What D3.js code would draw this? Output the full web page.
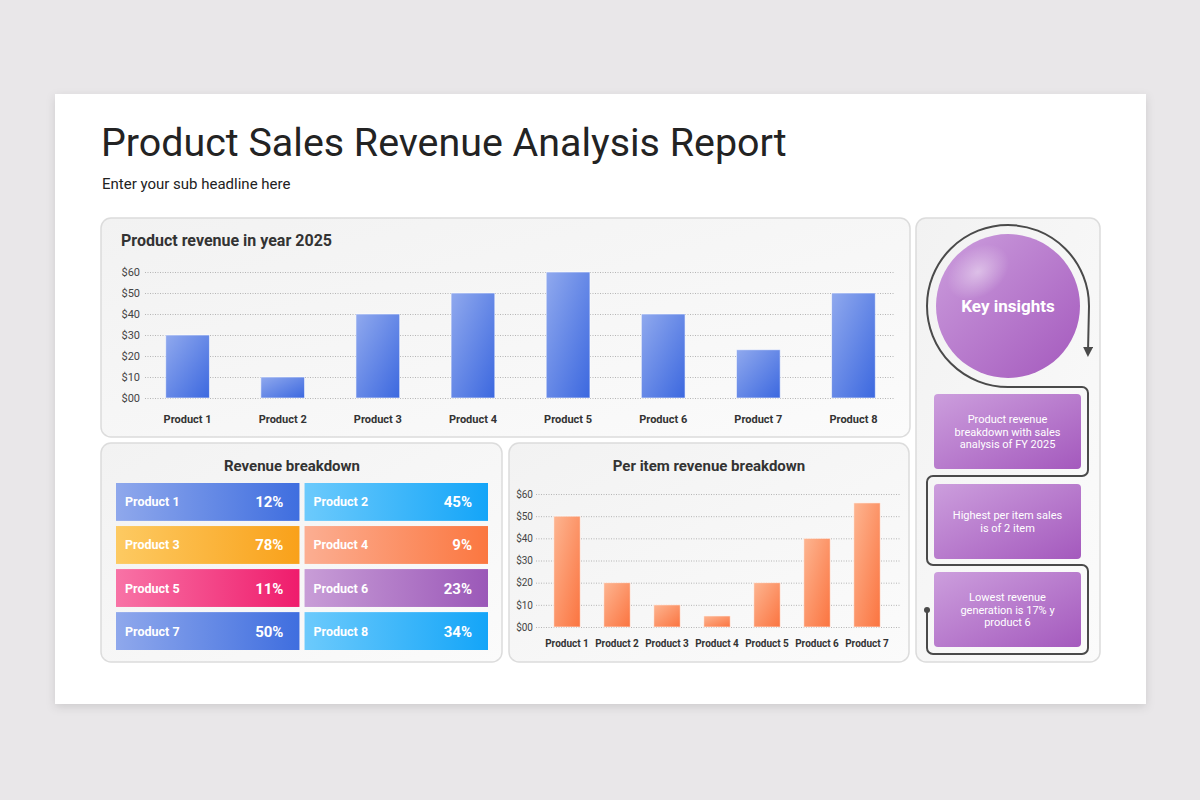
<!DOCTYPE html>
<html>
<head>
<meta charset="utf-8">
<script src="https://cdn.jsdelivr.net/npm/d3@7"></script>
<style>
  body { margin: 0; background: #e9e7e9; font-family: Roboto, "Noto Sans", sans-serif; }
  svg text { font-family: Roboto, "Noto Sans", sans-serif; }
</style>
</head>
<body>
<svg id="board" width="1200" height="800"></svg>
<script>
// ---- data ----
var revenueProducts = ["Product 1", "Product 2", "Product 3", "Product 4", "Product 5", "Product 6", "Product 7", "Product 8"];
var revenueValues = [30, 10, 40, 50, 60, 40, 23, 50];

var perItemProducts = ["Product 1", "Product 2", "Product 3", "Product 4", "Product 5", "Product 6", "Product 7"];
var perItemValues = [50, 20, 10, 5, 20, 40, 56];

var dollarTicks = [0, 10, 20, 30, 40, 50, 60];
var dollarLabels = ["$00", "$10", "$20", "$30", "$40", "$50", "$60"];

var breakdownProducts = ["Product 1", "Product 2", "Product 3", "Product 4", "Product 5", "Product 6", "Product 7", "Product 8"];
var breakdownShares = ["12%", "45%", "78%", "9%", "11%", "23%", "50%", "34%"];

var insightTexts = [
  ["Product revenue", "breakdown with sales", "analysis of FY 2025"],
  ["Highest per item sales", "is of 2 item"],
  ["Lowest revenue", "generation is 17% y", "product 6"]
];

// tile gradient pairs, one per product tile
var tileColors = [
  ["#8fa8ec", "#3f6edf"], ["#6ccafc", "#14a5f8"],
  ["#fdca62", "#f9a11a"], ["#fcae92", "#fb7740"],
  ["#f873a6", "#ef1c6c"], ["#c89dd7", "#9b58b8"],
  ["#8fa8ec", "#3f6edf"], ["#6ccafc", "#14a5f8"]
];

var svg = d3.select("#board");
var defs = svg.append("defs");

function diagGradient(id, c0, c1) {
  var g = defs.append("linearGradient").attr("id", id)
    .attr("x1", "0%").attr("y1", "0%").attr("x2", "100%").attr("y2", "100%");
  g.append("stop").attr("offset", "0%").attr("stop-color", c0);
  g.append("stop").attr("offset", "100%").attr("stop-color", c1);
}
function horizGradient(id, c0, c1) {
  var g = defs.append("linearGradient").attr("id", id)
    .attr("x1", "0%").attr("y1", "0%").attr("x2", "100%").attr("y2", "0%");
  g.append("stop").attr("offset", "0%").attr("stop-color", c0);
  g.append("stop").attr("offset", "100%").attr("stop-color", c1);
}

diagGradient("blueBar", "#90a9ee", "#3c68df");
diagGradient("orangeBar", "#fdb591", "#fb7440");
diagGradient("panelBg", "#f2f2f2", "#fbfbfb");
diagGradient("purple", "#cc9edd", "#a459bd");
tileColors.forEach((c, i) => horizGradient("tile" + i, c[0], c[1]));

var gloss = defs.append("radialGradient").attr("id", "gloss")
  .attr("cx", "50%").attr("cy", "50%").attr("r", "50%");
gloss.append("stop").attr("offset", "0%").attr("stop-color", "#fff").attr("stop-opacity", 0.45);
gloss.append("stop").attr("offset", "100%").attr("stop-color", "#fff").attr("stop-opacity", 0);

var shadow = defs.append("filter").attr("id", "cardShadow")
  .attr("x", "-5%").attr("y", "-5%").attr("width", "110%").attr("height", "115%");
shadow.append("feDropShadow").attr("dx", 0).attr("dy", 3).attr("stdDeviation", 5)
  .attr("flood-color", "#000").attr("flood-opacity", 0.12);

var arrow = defs.append("marker").attr("id", "arrowHead")
  .attr("viewBox", "0 0 10 10").attr("refX", 5).attr("refY", 5)
  .attr("markerWidth", 5).attr("markerHeight", 5).attr("orient", "auto");
arrow.append("path").attr("d", "M0,0 L10,5 L0,10 z").attr("fill", "#4a4a4a");

// ---- card ----
svg.append("rect").attr("x", 55).attr("y", 94).attr("width", 1091).attr("height", 610)
  .attr("fill", "#fff").attr("filter", "url(#cardShadow)");

svg.append("text").attr("x", 101).attr("y", 156)
  .attr("font-size", 39.4).attr("fill", "#232323").text("Product Sales Revenue Analysis Report");
svg.append("text").attr("x", 102).attr("y", 189)
  .attr("font-size", 15).attr("fill", "#222").text("Enter your sub headline here");

function panel(x, y, w, h) {
  svg.append("rect").attr("x", x).attr("y", y).attr("width", w).attr("height", h)
    .attr("rx", 10).attr("fill", "url(#panelBg)").attr("stroke", "#dcdcdc").attr("stroke-width", 1.5);
}
panel(101, 218, 809, 219);
panel(101, 443, 401, 219);
panel(509, 443, 400, 219);
panel(916, 218, 184, 444);

// ---- bar chart helper ----
function barChart(opt) {
  var g = svg.append("g");
  var x = d3.scaleBand().domain(opt.categories).range(opt.xRange)
    .paddingInner(opt.padding).paddingOuter(opt.padding / 2);
  var y = d3.scaleLinear().domain([0, 60]).range(opt.yRange);

  var yAxis = g.append("g").attr("transform", "translate(" + opt.gridStart + ",0)")
    .call(d3.axisLeft(y).tickValues(dollarTicks)
      .tickFormat((d, i) => dollarLabels[i])
      .tickSize(-(opt.gridEnd - opt.gridStart)).tickPadding(opt.tickPad));
  yAxis.select(".domain").remove();
  yAxis.selectAll(".tick line").attr("stroke", "#b5b5b5").attr("stroke-dasharray", "1,1.5");
  yAxis.selectAll(".tick text").attr("font-size", opt.tickFont).attr("fill", "#444");

  g.selectAll(".bar").data(opt.values).join("rect")
    .attr("x", (d, i) => x(opt.categories[i]))
    .attr("y", d => y(d))
    .attr("width", x.bandwidth())
    .attr("height", d => y(0) - y(d))
    .attr("fill", opt.fill)
    .attr("stroke", "#fff").attr("stroke-opacity", 0.6).attr("stroke-width", 1);

  var xAxis = g.append("g").attr("transform", "translate(0," + y(0) + ")")
    .call(d3.axisBottom(x).tickSize(0).tickPadding(opt.labelPad));
  xAxis.select(".domain").remove();
  xAxis.selectAll(".tick text").attr("font-size", opt.labelFont)
    .attr("font-weight", "bold").attr("fill", "#333");
}

svg.append("text").attr("x", 121).attr("y", 246)
  .attr("font-size", 16).attr("font-weight", "bold").attr("fill", "#333")
  .text("Product revenue in year 2025");

barChart({
  categories: revenueProducts, values: revenueValues,
  xRange: [140, 901], padding: 0.54, yRange: [398, 272],
  gridStart: 145, gridEnd: 895, tickPad: 5, tickFont: 11, labelPad: 17, labelFont: 11,
  fill: "url(#blueBar)"
});

svg.append("text").attr("x", 709).attr("y", 471).attr("text-anchor", "middle")
  .attr("font-size", 15).attr("font-weight", "bold").attr("fill", "#333")
  .text("Per item revenue breakdown");

barChart({
  categories: perItemProducts, values: perItemValues,
  xRange: [542, 892], padding: 0.47, yRange: [627, 494],
  gridStart: 536, gridEnd: 900, tickPad: 3, tickFont: 10, labelPad: 13, labelFont: 10,
  fill: "url(#orangeBar)"
});

// ---- revenue breakdown tiles ----
svg.append("text").attr("x", 292).attr("y", 471).attr("text-anchor", "middle")
  .attr("font-size", 15).attr("font-weight", "bold").attr("fill", "#333")
  .text("Revenue breakdown");

var col = d3.scaleBand().domain([0, 1]).range([116, 488]).paddingInner(0.027);
var row = d3.scaleBand().domain([0, 1, 2, 3]).range([483, 650]).paddingInner(0.12);

var tiles = svg.selectAll(".tile").data(breakdownProducts).join("g")
  .attr("transform", (d, i) => "translate(" + col(i % 2) + "," + row(Math.floor(i / 2)) + ")");
tiles.append("rect").attr("width", col.bandwidth()).attr("height", row.bandwidth())
  .attr("fill", (d, i) => "url(#tile" + i + ")");
tiles.append("text").attr("x", 9).attr("y", row.bandwidth() / 2 + 4.5)
  .attr("font-size", 12.5).attr("font-weight", "bold").attr("fill", "#fff").text(d => d);
tiles.append("text").attr("x", col.bandwidth() - 16).attr("y", row.bandwidth() / 2 + 5.5)
  .attr("text-anchor", "end").attr("font-size", 15).attr("font-weight", "bold").attr("fill", "#fff")
  .text((d, i) => breakdownShares[i]);

// ---- key insights ----
var cx = 1008, cy = 306, ringR = 81;
var lx = 927, rx = 1088;

svg.append("path")
  .attr("d", "M" + cx + "," + (cy + ringR) + " A" + ringR + "," + ringR + " 0 1 1 " + (cx + ringR) + "," + cy + " L" + rx + "," + 352)
  .attr("fill", "none").attr("stroke", "#4a4a4a").attr("stroke-width", 2)
  .attr("marker-end", "url(#arrowHead)");

var rowLines = [387, 476, 565, 654];
var r = 6;
var route = d3.path();
route.moveTo(cx, rowLines[0]);
route.lineTo(rx - r, rowLines[0]);
route.arcTo(rx, rowLines[0], rx, rowLines[0] + r, r);
route.arcTo(rx, rowLines[1], rx - r, rowLines[1], r);
route.arcTo(lx, rowLines[1], lx, rowLines[1] + r, r);
route.arcTo(lx, rowLines[2], lx + r, rowLines[2], r);
route.arcTo(rx, rowLines[2], rx, rowLines[2] + r, r);
route.arcTo(rx, rowLines[3], rx - r, rowLines[3], r);
route.arcTo(lx, rowLines[3], lx, rowLines[3] - r, r);
route.lineTo(lx, 610);
svg.append("path").attr("d", route.toString())
  .attr("fill", "none").attr("stroke", "#4a4a4a").attr("stroke-width", 2);
svg.append("circle").attr("cx", lx).attr("cy", 610).attr("r", 3).attr("fill", "#4a4a4a");

svg.append("circle").attr("cx", cx).attr("cy", cy).attr("r", 72).attr("fill", "url(#purple)");
svg.append("ellipse").attr("cx", 978).attr("cy", 272).attr("rx", 34).attr("ry", 24)
  .attr("transform", "rotate(-35,978,272)").attr("fill", "url(#gloss)");
svg.append("text").attr("x", cx).attr("y", 312).attr("text-anchor", "middle")
  .attr("font-size", 17).attr("font-weight", "bold").attr("fill", "#fff").text("Key insights");

var boxTops = [394, 484, 572];
var boxH = 75;
insightTexts.forEach((lines, i) => {
  var g = svg.append("g").attr("transform", "translate(934," + boxTops[i] + ")");
  g.append("rect").attr("width", 147).attr("height", boxH).attr("rx", 4).attr("fill", "url(#purple)");
  var lh = 12.5;
  var start = boxH / 2 - (lines.length - 1) * lh / 2 + 4;
  g.selectAll("text").data(lines).join("text")
    .attr("x", 73.5).attr("y", (d, j) => start + j * lh)
    .attr("text-anchor", "middle").attr("font-size", 11).attr("fill", "#fff").text(d => d);
});
</script>
</body>
</html>
